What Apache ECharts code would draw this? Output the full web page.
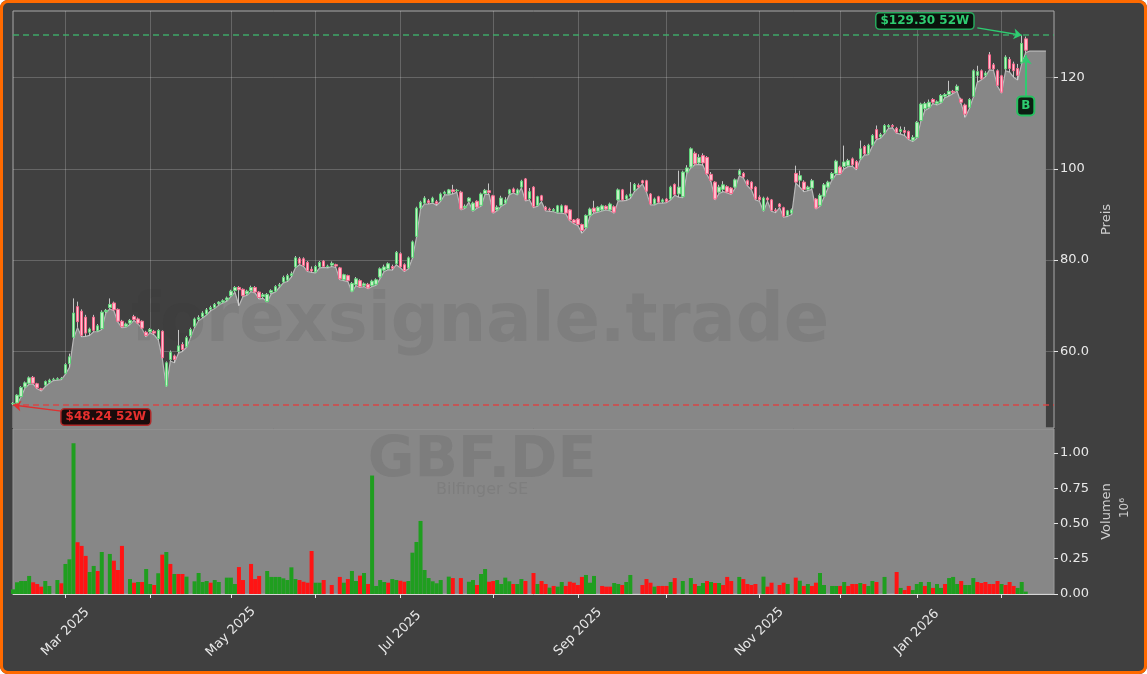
<!DOCTYPE html>
<html><head><meta charset="utf-8">
<script src="https://cdn.jsdelivr.net/npm/echarts@6/dist/echarts.min.js"></script>
<style>
html,body{margin:0;padding:0;background:#ffffff;}
#wrap{position:relative;width:1147px;height:674px;}
#chart{position:absolute;left:0;top:0;width:1147px;height:674px;background:#404040;border-radius:8px;overflow:hidden;}
#frame{position:absolute;left:0;top:0;width:1147px;height:674px;box-sizing:border-box;border:3px solid #ff6a00;border-radius:8px;pointer-events:none;}
</style></head><body>
<div id="wrap"><div id="chart"></div><div id="frame"></div></div>
<script>
// ---------- DATA ----------
const startDate = '2025-02-12';
const endDate = '2026-02-19';
const holidays = ['2025-04-18','2025-04-21','2025-05-01','2025-12-24','2025-12-25','2025-12-26','2025-12-31','2026-01-01'];

// [open, close, low, high]
const ohlc = [
[48.5,48.6,48.24,48.9],[48.7,50.4,48.5,50.6],[50.1,52.1,50.0,52.4],[52.2,53.1,52.0,53.4],[53.0,54.2,52.8,54.5],
[54.3,53.0,52.8,54.6],[52.9,52.0,51.8,53.1],[51.8,51.6,51.3,52.0],[52.6,53.4,52.3,53.6],[53.2,53.7,53.0,54.0],
[53.8,53.9,53.6,54.2],[53.9,54.0,53.7,54.3],[54.0,54.1,53.8,54.4],[55.2,57.1,55.0,57.4],[57.3,58.8,56.5,59.5],
[63.1,68.4,62.8,71.6],[69.8,66.5,65.2,70.9],[68.8,63.5,63.2,69.2],[67.5,64.0,63.3,68.0],[64.2,64.9,63.5,65.2],
[67.5,64.6,64.3,68.0],[64.5,65.6,64.3,66.0],[65.0,68.6,64.8,69.0],[68.7,69.0,68.4,69.3],[69.6,70.3,69.3,71.6],
[70.6,69.1,68.9,70.9],[69.2,66.6,66.4,69.4],[66.6,65.4,65.2,66.9],[65.5,66.0,65.3,66.3],[66.2,66.8,65.9,67.1],
[67.6,67.0,66.8,68.0],[67.1,66.2,66.0,67.4],[66.6,65.1,64.9,66.8],[64.2,63.5,63.2,64.5],[64.3,64.8,64.1,65.1],
[64.4,64.0,63.6,64.7],[62.8,64.6,62.5,64.9],[64.4,58.6,58.4,64.6],[52.4,57.5,52.2,57.8],[58.2,59.8,57.9,60.2],
[59.0,58.2,57.5,59.3],[60.0,61.2,59.6,64.7],[61.5,60.4,60.0,62.0],[61.0,63.0,60.9,63.4],[63.4,64.8,63.0,65.2],
[65.5,67.1,65.2,67.4],[67.0,67.4,66.7,67.9],[67.6,68.4,67.3,68.8],[68.2,69.1,68.0,69.5],[69.2,69.6,68.9,70.0],
[69.6,70.3,69.4,70.6],[70.4,70.8,70.1,71.0],[70.8,71.1,70.6,71.4],[71.3,71.7,71.0,72.0],[72.2,73.2,72.0,73.5],
[73.3,74.0,73.0,74.3],[74.0,73.5,70.0,74.3],[73.6,72.2,72.0,73.8],[72.6,73.2,72.3,73.5],[73.3,74.0,73.1,74.4],
[74.0,73.0,72.8,74.3],[73.0,71.8,71.5,73.2],[72.0,72.4,71.6,72.8],[70.9,72.5,70.8,72.8],[72.9,73.3,72.6,73.6],
[73.2,74.2,73.0,74.5],[74.3,74.6,74.0,75.0],[75.2,76.2,75.0,76.6],[75.6,76.6,75.3,77.0],[76.6,77.0,76.3,77.5],
[78.5,80.5,78.3,80.9],[80.3,79.3,79.0,80.7],[80.3,78.8,78.6,80.6],[79.5,77.7,77.5,79.8],[78.0,77.6,77.3,78.6],
[77.4,78.6,77.2,78.9],[78.5,79.5,78.3,79.8],[79.8,78.6,78.4,80.0],[78.6,78.7,78.3,79.0],[78.9,79.3,78.6,79.7],
[79.0,78.7,78.4,79.2],[78.3,75.9,75.7,78.5],[75.7,76.8,75.5,77.0],[76.6,75.5,75.3,76.8],[73.2,74.9,73.0,75.2],
[74.6,75.9,74.4,76.3],[75.5,74.2,74.0,75.8],[74.4,74.8,74.2,75.1],[74.7,73.9,73.7,75.0],[74.4,75.4,74.2,75.7],
[74.7,75.7,74.5,76.0],[76.3,78.1,76.0,78.4],[77.8,78.5,77.5,79.0],[78.1,79.2,77.9,79.5],[78.6,78.2,77.8,79.0],
[79.2,81.7,79.0,82.0],[81.4,78.5,78.3,81.7],[79.0,77.7,77.5,79.3],[78.3,80.5,78.1,80.8],[80.6,84.0,80.4,84.3],
[85.2,91.4,85.0,91.7],[91.4,92.7,91.2,93.0],[92.5,93.6,92.3,94.0],[93.0,92.6,92.3,93.4],[92.7,93.6,92.5,93.9],
[92.8,92.4,92.0,93.2],[93.1,94.5,92.9,94.8],[94.6,94.9,94.3,95.2],[94.5,95.4,94.3,95.6],[95.4,95.0,94.5,96.5],
[95.2,95.3,94.9,95.6],[94.9,91.2,91.0,95.2],[91.5,91.8,91.3,92.2],[92.9,93.6,92.7,93.8],[90.9,92.5,90.7,92.8],
[92.9,91.6,91.4,93.1],[92.0,94.5,91.8,94.8],[94.6,95.3,94.4,95.6],[95.2,94.8,94.4,96.8],[94.1,90.5,90.3,94.3],
[91.0,91.6,90.8,92.0],[92.0,93.6,91.8,94.1],[92.5,93.2,92.3,93.8],[94.5,95.4,94.3,95.6],[95.6,94.9,94.7,95.9],
[94.5,95.4,94.3,95.7],[96.0,97.3,95.8,97.6],[97.8,93.2,93.0,98.0],[93.5,95.0,93.2,95.8],[96.0,91.7,91.5,96.2],
[92.0,93.9,91.8,94.1],[94.1,93.1,92.8,94.3],[91.6,91.0,90.8,91.9],[91.2,91.0,90.7,91.5],[90.8,91.1,90.6,91.4],
[90.5,91.9,90.3,92.1],[90.5,91.9,90.3,92.2],[91.9,90.3,90.1,92.1],[91.0,88.8,88.6,91.2],[88.8,88.2,88.0,89.0],
[89.0,87.8,87.6,89.2],[87.8,86.5,85.9,88.0],[87.1,89.8,86.9,90.0],[89.8,91.2,89.6,91.5],[91.4,90.6,90.3,93.0],
[90.7,91.6,90.5,91.8],[91.0,91.9,90.8,92.2],[91.8,91.2,91.0,92.0],[91.0,92.3,90.8,92.6],[91.7,90.5,90.3,92.0],
[93.2,95.4,93.0,95.7],[95.4,93.2,93.0,95.6],[93.4,94.1,93.1,94.4],[94.0,94.5,93.5,97.1],[95.3,96.6,95.0,96.9],
[96.4,96.0,95.8,96.8],[97.4,96.9,96.7,97.6],[97.4,95.1,94.9,97.6],[94.5,92.3,92.1,94.7],[92.3,93.4,92.1,93.7],
[93.9,92.7,92.5,94.1],[92.8,93.2,92.5,93.5],[93.4,92.8,92.6,93.6],[93.4,96.0,93.2,96.3],[96.6,94.4,94.2,96.8],
[94.5,96.0,93.8,99.6],[93.9,99.3,93.7,99.6],[99.3,100.2,99.0,100.8],[100.4,104.4,100.2,104.7],[103.4,101.1,100.9,103.8],
[101.3,102.5,101.0,103.2],[102.9,101.3,100.8,103.4],[102.5,98.9,98.7,102.8],[98.8,97.5,97.2,99.3],[97.1,93.4,93.2,97.3],
[94.9,96.0,94.6,96.5],[95.5,96.5,95.0,97.3],[96.1,94.9,94.7,96.4],[95.8,94.6,94.4,96.0],[96.0,97.6,95.8,97.9],
[98.7,99.6,98.5,100.0],[99.0,98.2,98.0,99.3],[97.4,96.5,96.3,97.7],[97.1,95.6,95.4,97.3],[96.0,93.4,93.2,96.2],
[93.8,93.2,92.9,94.2],[90.9,93.6,90.7,93.9],[93.6,93.2,92.9,93.9],[93.2,90.9,90.7,93.4],[91.0,90.8,90.4,91.4],
[92.3,91.7,91.5,92.5],[91.5,89.6,89.4,91.7],[89.8,90.8,89.6,91.0],[90.3,91.0,90.0,91.3],[99.0,97.1,96.9,100.7],
[97.5,98.5,96.0,99.6],[97.1,95.5,95.0,97.5],[95.5,96.0,95.2,96.3],[95.8,97.4,95.5,97.8],[93.4,91.4,91.2,93.6],
[92.0,94.2,91.8,94.6],[94.0,96.5,93.8,96.9],[96.0,97.1,95.8,97.4],[97.8,99.0,97.6,99.3],[99.0,101.7,98.8,102.0],
[100.4,99.0,98.8,100.7],[100.5,101.5,100.0,105.1],[100.7,101.8,100.5,102.2],[102.2,100.9,100.6,102.5],[101.6,100.1,99.8,101.9],
[102.2,104.4,102.0,106.2],[104.9,103.3,103.0,105.2],[103.3,105.2,103.1,105.5],[105.2,107.3,105.0,107.6],[108.6,106.6,106.4,109.5],
[107.0,107.5,106.7,107.9],[107.9,109.5,107.7,109.8],[109.2,109.5,108.9,109.8],[109.5,109.3,109.0,109.8],[108.9,108.0,107.8,109.2],
[108.2,108.6,107.6,109.3],[108.4,108.0,107.3,109.2],[108.2,106.6,106.4,108.4],[106.3,106.9,106.0,107.4],[106.9,110.2,106.7,110.5],
[110.6,114.2,110.4,114.5],[113.2,114.3,112.8,114.7],[113.5,114.6,113.3,115.2],[115.2,114.6,114.3,115.5],[114.3,114.7,114.0,115.0],
[114.6,116.1,114.4,116.4],[115.9,116.3,115.6,116.6],[116.3,117.0,116.0,119.3],[117.0,116.8,116.5,117.3],[117.2,118.1,117.0,118.5],
[115.3,114.6,114.3,115.6],[114.0,112.0,111.3,114.3],[113.5,115.2,113.2,115.5],[115.9,121.5,115.7,121.8],[120.5,121.3,119.0,122.6],
[121.5,119.7,119.5,121.8],[120.5,121.0,120.2,121.4],[125.0,121.9,121.7,125.6],[122.8,121.9,121.6,123.2],[121.5,118.3,118.1,121.8],
[120.4,116.8,116.6,120.6],[121.9,124.5,121.5,124.9],[124.0,122.0,121.2,124.5],[123.0,121.5,120.1,123.5],[122.0,120.5,119.5,123.0],
[123.4,127.5,123.0,129.3],[128.5,126.0,125.5,129.0]
];

// volume in millions
const volume = [
0.033,0.083,0.092,0.092,0.128,0.083,0.071,0.052,0.092,0.057,
0,0.099,0.076,0.213,0.246,1.069,0.367,0.341,0.270,0.156,
0.199,0.163,0.298,0,0.284,0.236,0.170,0.341,0,0.106,
0.080,0.085,0.085,0.177,0.071,0.064,0.147,0.279,0.298,0.213,
0.142,0.142,0.142,0.123,0,0.090,0.149,0.085,0.092,0.080,
0.099,0.085,0,0.116,0.116,0.071,0.191,0.099,0,0.213,
0.106,0.128,0,0.163,0.121,0.121,0.121,0.111,0.099,0.189,
0.106,0.099,0.087,0.080,0.305,0.080,0.080,0.099,0,0.064,
0,0.121,0.080,0.106,0.163,0.092,0.130,0.149,0.071,0.840,
0.057,0.099,0.085,0.080,0.106,0.099,0.094,0.087,0.092,0.293,
0.369,0.518,0.170,0.113,0.090,0.076,0.099,0,0.123,0.113,
0,0.113,0,0.087,0.099,0.064,0.142,0.177,0.087,0.092,
0.099,0.071,0.116,0.090,0.071,0.071,0.106,0.092,0,0.149,
0.071,0.092,0.071,0.045,0.057,0.052,0.085,0.057,0.087,0.080,
0.064,0.121,0.135,0.080,0.128,0,0.057,0.052,0.052,0.078,
0.071,0.064,0.085,0.135,0,0,0.064,0.106,0.080,0.052,
0.057,0.057,0.057,0.085,0.113,0,0.092,0,0.113,0.071,
0.057,0.078,0.092,0.085,0.078,0.078,0.064,0.121,0.092,0,
0.121,0.106,0.071,0.064,0.071,0,0.123,0.052,0.080,0,
0.064,0.080,0.071,0,0.116,0.094,0.057,0.071,0.057,0.080,
0.149,0.064,0,0.057,0.057,0.057,0.085,0.057,0.071,0.071,
0.078,0.071,0.057,0.092,0.085,0,0.121,0,0,0.156,
0.043,0.028,0.057,0.028,0.071,0.085,0.057,0.085,0.043,0.071,
0.043,0.071,0.113,0.121,0.071,0.092,0.064,0.064,0.113,0.085,
0.078,0.085,0.071,0.071,0.092,0.071,0.064,0.085,0.057,0.043,
0.085,0.017
];
// g = up day (green), r = down day (red)
const volumeDir =
"gggggrrrgg"+"ggrgggrrrg"+"grgggrrrgg"+"rgrggrgrgr"+"grrggggggr"+
"ggggggrrrr"+"rrgggggggg"+"grrrrggrrr"+"rrgrggrgrg"+"gggrggrrgg"+
"gggggggggr"+"rrrggrggrr"+"ggggrggrgr"+"grrgrggrrr"+"rrggggrrrg"+
"grggggrrrg"+"rrrgrggggr"+"ggrgrgrrrg"+"grrrrggrrr"+"rrggrgrgrr"+
"gggggrgrrr"+"grggrggggr"+"grrgggrgrg"+"grgggrgggr"+"rrrrrgrrrg"+"gg";

const areaTail = [125.8,125.8,125.8,125.8,125.8];
const priceTicks = [60,80,100,120];
const volumeTicks = [0,0.25,0.5,0.75,1.0];
const high52 = 129.30, low52 = 48.24;
const high52Label = '$129.30 52W', low52Label = '$48.24 52W';

// ---------- BUILD ----------
function buildDates(){
  const out=[]; let d=new Date(startDate+'T00:00:00Z'); const end=new Date(endDate+'T00:00:00Z');
  while(d<=end){ const dow=d.getUTCDay(); const s=d.toISOString().slice(0,10);
    if(dow!==0&&dow!==6&&holidays.indexOf(s)<0) out.push(s);
    d=new Date(d.getTime()+86400000); }
  return out;
}
const dates = buildDates();
const MONTHS=['Jan','Feb','Mar','Apr','May','Jun','Jul','Aug','Sep','Oct','Nov','Dec'];
const monthStart = dates.map((d,i)=> i>0 && d.slice(5,7)!==dates[i-1].slice(5,7));
const labelMonth = dates.map((d,i)=> monthStart[i] && (parseInt(d.slice(5,7),10)%2===1));
const lows = ohlc.map(r=>r[2]);
const areaData = lows.concat(areaTail);
const bodies = ohlc.map(r=>[r[0],r[1],Math.min(r[0],r[1]),Math.max(r[0],r[1])]);
const GREEN='#1f9e1f', RED='#ff1414';
const volData = volume.map((v,i)=>({value:v,itemStyle:{color: volumeDir[i]==='g'?GREEN:RED}}));
const FONT='DejaVu Sans';
const lastIdx = ohlc.length-1;
let hiIdx=0, loIdx=0;
ohlc.forEach((r,i)=>{ if(r[3]>ohlc[hiIdx][3]) hiIdx=i; if(r[2]<ohlc[loIdx][2]) loIdx=i; });

const chart = echarts.init(document.getElementById('chart'), null, {renderer:'canvas'});
const gridLine = 'rgba(255,255,255,0.2)';
const WM = 'rgba(50,50,50,0.10)';
const option = {
  animation:false,
  backgroundColor:'transparent',
  textStyle:{fontFamily:FONT},
  grid:[
    {left:13, right:93, top:11, height:417, show:true, borderColor:'#a9a9a9', borderWidth:1, backgroundColor:'transparent', containLabel:false},
    {left:13, right:93, top:429, height:165, show:true, borderColor:'#9a9a9a', borderWidth:1, backgroundColor:'#878787', containLabel:false}
  ],
  xAxis:[
    {type:'category', gridIndex:0, data:dates, boundaryGap:false,
     axisLine:{show:false}, axisTick:{show:false}, axisLabel:{show:false},
     splitLine:{show:true, interval:(i)=>monthStart[i], lineStyle:{color:gridLine, width:1}}},
    {type:'category', gridIndex:1, data:dates, boundaryGap:false,
     axisLine:{show:true, lineStyle:{color:'#d6d6d6', width:1}},
     axisTick:{show:true, interval:(i)=>monthStart[i], length:4, lineStyle:{color:'#e6e6e6'}},
     axisLabel:{show:true, interval:(i)=>labelMonth[i], rotate:45, align:'center', verticalAlign:'middle', margin:38,
       color:'#e8e8e8', fontSize:13, fontFamily:FONT,
       formatter:(v)=> MONTHS[parseInt(v.slice(5,7),10)-1]+' '+v.slice(0,4)},
     splitLine:{show:false}}
  ],
  yAxis:[
    {type:'value', gridIndex:0, position:'right', min:43.2, max:134.6, interval:20,
     axisLine:{show:false},
     axisTick:{show:true, length:4, customValues:priceTicks, lineStyle:{color:'#e6e6e6'}},
     axisLabel:{show:true, customValues:priceTicks, color:'#e8e8e8', fontSize:13, fontFamily:FONT, margin:6,
       formatter:(v)=> v>=100 ? String(v) : v.toFixed(1)},
     splitLine:{show:true, lineStyle:{color:gridLine, width:1}},
     name:'Preis', nameLocation:'middle', nameRotate:90, nameGap:45,
     nameTextStyle:{color:'#cfcfcf', fontSize:13, fontFamily:FONT}},
    {type:'value', gridIndex:1, position:'right', min:0, max:1.17, interval:0.25,
     axisLine:{show:false},
     axisTick:{show:true, length:4, customValues:volumeTicks, lineStyle:{color:'#e6e6e6'}},
     axisLabel:{show:true, customValues:volumeTicks, color:'#e8e8e8', fontSize:13, fontFamily:FONT, margin:6,
       formatter:(v)=> v.toFixed(2)},
     splitLine:{show:false},
     name:'Volumen', nameLocation:'middle', nameRotate:90, nameGap:45,
     nameTextStyle:{color:'#cfcfcf', fontSize:13, fontFamily:FONT}}
  ],
  graphic:{elements:[
    {type:'text', x:480, y:324, z:2, silent:true,
     style:{text:'forexsignale.trade', font:'bold 67px "DejaVu Sans"', fill:WM, align:'center', verticalAlign:'middle'}},
    {type:'text', x:482, y:462, z:2, silent:true,
     style:{text:'GBF.DE', font:'bold 57px "DejaVu Sans"', fill:'rgba(50,50,50,0.11)', align:'center', verticalAlign:'middle'}},
    {type:'text', x:482, y:490, z:2, silent:true,
     style:{text:'Bilfinger SE', font:'16px "DejaVu Sans"', fill:'rgba(50,50,50,0.10)', align:'center', verticalAlign:'middle'}},
    {type:'text', x:1125, y:508, rotation:Math.PI/2, z:5, silent:true,
     style:{text:'10\u2076', font:'12px "DejaVu Sans"', fill:'#cfcfcf', align:'center', verticalAlign:'middle'}}
  ]},
  series:[
    {name:'area', type:'line', xAxisIndex:0, yAxisIndex:0, data:areaData, z:1,
     symbol:'none', silent:true, lineStyle:{color:'#b9b9b9', width:1.2},
     areaStyle:{color:'#878787', opacity:1, origin:'start'}},
    {name:'wick', type:'candlestick', xAxisIndex:0, yAxisIndex:0, data:ohlc, z:4, barWidth:1, silent:true,
     itemStyle:{color:'#d4d4d4', color0:'#d4d4d4', borderColor:'#d4d4d4', borderColor0:'#d4d4d4', borderWidth:1, opacity:0.9}},
    {name:'body', type:'candlestick', xAxisIndex:0, yAxisIndex:0, data:bodies, z:5, barWidth:3, silent:true,
     itemStyle:{color:'#c4f0c4', color0:'#ffc0cf', borderColor:'#5fd47a', borderColor0:'#f7698d', borderWidth:1},
     markLine:{silent:true, symbol:['none','none'], label:{show:false}, animation:false,
       data:[
         {yAxis:high52, lineStyle:{color:'#3fb36b', type:[6,4], width:1.5, opacity:0.9}},
         {yAxis:low52, lineStyle:{color:'#e04040', type:[6,4], width:1.5, opacity:0.9}},
         [{coord:[239,130.9], symbol:'none', lineStyle:{color:'#2ecc71', width:1.5, type:'solid'}},
          {coord:[hiIdx,high52], symbol:'arrow', symbolSize:8}],
         [{coord:[12,46.9], symbol:'none', lineStyle:{color:'#e03030', width:1.5, type:'solid'}},
          {coord:[loIdx,low52], symbol:'arrow', symbolSize:8}],
         [{coord:[lastIdx,115.9], symbol:'none', lineStyle:{color:'#2ecc71', width:2, type:'solid'}},
          {coord:[lastIdx,124.9], symbol:'arrow', symbolSize:9}]
       ]},
     markPoint:{silent:true, symbol:'rect', symbolSize:1, itemStyle:{color:'rgba(0,0,0,0)'}, animation:false,
       data:[
         {coord:[226,132.4], label:{show:true, position:'inside', formatter:high52Label, color:'#2ecc71', fontWeight:'bold', fontSize:12, fontFamily:FONT,
           backgroundColor:'#0a120c', borderColor:'#27a85c', borderWidth:1.5, borderRadius:3, padding:[2,4,1,4]}},
         {coord:[23,45.6], label:{show:true, position:'inside', formatter:low52Label, color:'#e8302e', fontWeight:'bold', fontSize:12, fontFamily:FONT,
           backgroundColor:'#1a0b0b', borderColor:'#b02a2a', borderWidth:1.5, borderRadius:3, padding:[2,4,1,4]}},
         {coord:[lastIdx,113.8], label:{show:true, position:'inside', formatter:'B', color:'#2ecc71', fontWeight:'bold', fontSize:12, fontFamily:FONT,
           backgroundColor:'#0c1f13', borderColor:'#27c060', borderWidth:2, borderRadius:3, padding:[3,3,2,3]}}
       ]}
    },
    {name:'volume', type:'bar', xAxisIndex:1, yAxisIndex:1, data:volData, barWidth:4, z:3, silent:true}
  ]
};
chart.setOption(option);
</script>
</body></html>
